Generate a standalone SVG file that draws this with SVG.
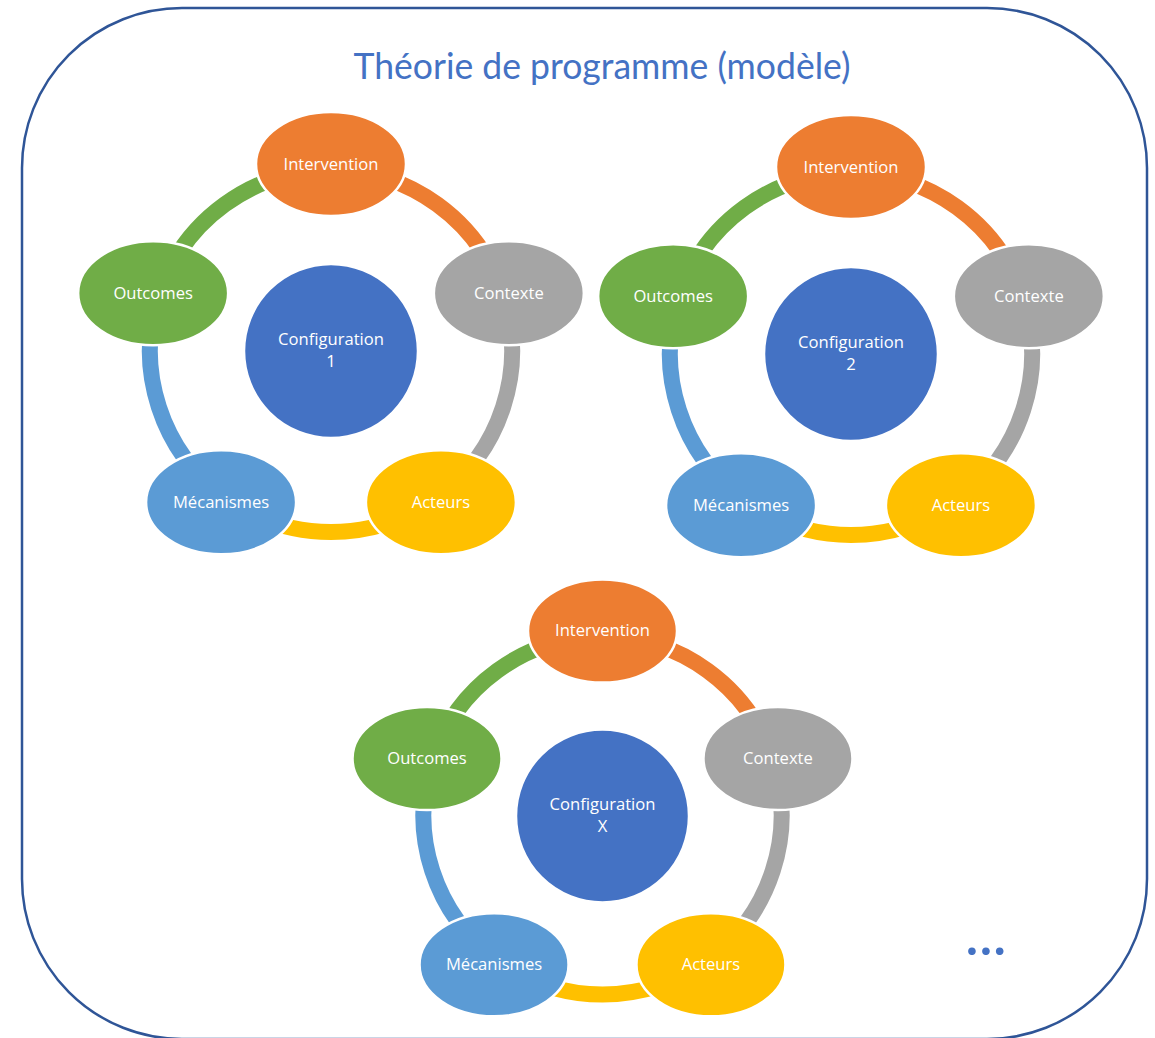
<svg xmlns="http://www.w3.org/2000/svg" width="1155" height="1038" viewBox="0 0 1155 1038">
<style>
.lbl{font-family:"Open Sans","Liberation Sans",sans-serif;font-size:16.6px;fill:#fff;text-anchor:middle}
.node{stroke:#fff;stroke-width:2.5}
.arc{fill:none;stroke-width:16;stroke-linecap:butt}
.o{fill:#ED7D31}.g{fill:#A5A5A5}.y{fill:#FFC000}.b{fill:#5B9BD5}.gr{fill:#70AD47}.c{fill:#4472C4}
.so{stroke:#ED7D31}.sg{stroke:#A5A5A5}.sy{stroke:#FFC000}.sb{stroke:#5B9BD5}.sgr{stroke:#70AD47}
</style>
<rect x="22" y="8" width="1125" height="1031" rx="160" ry="160" fill="#fff" stroke="#2F5597" stroke-width="2.5"/>
<text id="title" x="602" y="79" font-family="Lato,'Open Sans',sans-serif" font-size="37" fill="#4472C4" text-anchor="middle" textLength="497" lengthAdjust="spacingAndGlyphs">Théorie de programme (modèle)</text>

<g id="connectors">
  <path class="arc so" d="M331,170 A181,181 0 0 1 503.14,295.07"/>
  <path class="arc sg" d="M503.14,295.07 A181,181 0 0 1 437.39,497.43"/>
  <path class="arc sy" d="M437.39,497.43 A181,181 0 0 1 224.61,497.43"/>
  <path class="arc sb" d="M224.61,497.43 A181,181 0 0 1 158.86,295.07"/>
  <path class="arc sgr" d="M158.86,295.07 A181,181 0 0 1 331,170"/>

  <path class="arc so" d="M851,173 A181,181 0 0 1 1023.14,298.07"/>
  <path class="arc sg" d="M1023.14,298.07 A181,181 0 0 1 957.39,500.43"/>
  <path class="arc sy" d="M957.39,500.43 A181,181 0 0 1 744.61,500.43"/>
  <path class="arc sb" d="M744.61,500.43 A181,181 0 0 1 678.86,298.07"/>
  <path class="arc sgr" d="M678.86,298.07 A181,181 0 0 1 851,173"/>

  <path class="arc so" d="M602.5,636.5 A179,179 0 0 1 772.74,760.19"/>
  <path class="arc sg" d="M772.74,760.19 A179,179 0 0 1 707.71,960.31"/>
  <path class="arc sy" d="M707.71,960.31 A179,179 0 0 1 497.29,960.31"/>
  <path class="arc sb" d="M497.29,960.31 A179,179 0 0 1 432.26,760.19"/>
  <path class="arc sgr" d="M432.26,760.19 A179,179 0 0 1 602.5,636.5"/>
</g>

<g id="cycle1">
  <g id="c1-config"><circle class="node c" cx="331" cy="351" r="87"/><text class="lbl" x="331" y="345">Configuration</text><text class="lbl" x="331" y="367">1</text></g>
  <g id="c1-intervention"><ellipse class="node o" cx="331" cy="164" rx="75" ry="52"/><text class="lbl" x="331" y="169.5">Intervention</text></g>
  <g id="c1-contexte"><ellipse class="node g" cx="508.85" cy="293.21" rx="75" ry="52"/><text class="lbl" x="508.85" y="298.7">Contexte</text></g>
  <g id="c1-acteurs"><ellipse class="node y" cx="440.92" cy="502.29" rx="75" ry="52"/><text class="lbl" x="440.92" y="507.8">Acteurs</text></g>
  <g id="c1-mecanismes"><ellipse class="node b" cx="221.08" cy="502.29" rx="75" ry="52"/><text class="lbl" x="221.08" y="507.8">Mécanismes</text></g>
  <g id="c1-outcomes"><ellipse class="node gr" cx="153.15" cy="293.21" rx="75" ry="52"/><text class="lbl" x="153.15" y="298.7">Outcomes</text></g>
</g>

<g id="cycle2">
  <g id="c2-config"><circle class="node c" cx="851" cy="354" r="87"/><text class="lbl" x="851" y="348">Configuration</text><text class="lbl" x="851" y="370">2</text></g>
  <g id="c2-intervention"><ellipse class="node o" cx="851" cy="167" rx="75" ry="52"/><text class="lbl" x="851" y="172.5">Intervention</text></g>
  <g id="c2-contexte"><ellipse class="node g" cx="1028.85" cy="296.21" rx="75" ry="52"/><text class="lbl" x="1028.85" y="301.7">Contexte</text></g>
  <g id="c2-acteurs"><ellipse class="node y" cx="960.92" cy="505.29" rx="75" ry="52"/><text class="lbl" x="960.92" y="510.8">Acteurs</text></g>
  <g id="c2-mecanismes"><ellipse class="node b" cx="741.08" cy="505.29" rx="75" ry="52"/><text class="lbl" x="741.08" y="510.8">Mécanismes</text></g>
  <g id="c2-outcomes"><ellipse class="node gr" cx="673.15" cy="296.21" rx="75" ry="52"/><text class="lbl" x="673.15" y="301.7">Outcomes</text></g>
</g>

<g id="cycle3">
  <g id="c3-config"><circle class="node c" cx="602.5" cy="816" r="86.5"/><text class="lbl" x="602.5" y="810">Configuration</text><text class="lbl" x="602.5" y="832">X</text></g>
  <g id="c3-intervention"><ellipse class="node o" cx="602.5" cy="631" rx="74.5" ry="51.5"/><text class="lbl" x="602.5" y="636">Intervention</text></g>
  <g id="c3-contexte"><ellipse class="node g" cx="777.97" cy="758.49" rx="74.5" ry="51.5"/><text class="lbl" x="777.97" y="763.5">Contexte</text></g>
  <g id="c3-acteurs"><ellipse class="node y" cx="710.95" cy="964.76" rx="74.5" ry="51.5"/><text class="lbl" x="710.95" y="969.8">Acteurs</text></g>
  <g id="c3-mecanismes"><ellipse class="node b" cx="494.05" cy="964.76" rx="74.5" ry="51.5"/><text class="lbl" x="494.05" y="969.8">Mécanismes</text></g>
  <g id="c3-outcomes"><ellipse class="node gr" cx="427.03" cy="758.49" rx="74.5" ry="51.5"/><text class="lbl" x="427.03" y="763.5">Outcomes</text></g>
</g>

<text id="ellipsis" x="966" y="955" font-family="Lato,'Open Sans',sans-serif" font-weight="bold" font-size="50" fill="#4472C4" letter-spacing="2">...</text>
</svg>
